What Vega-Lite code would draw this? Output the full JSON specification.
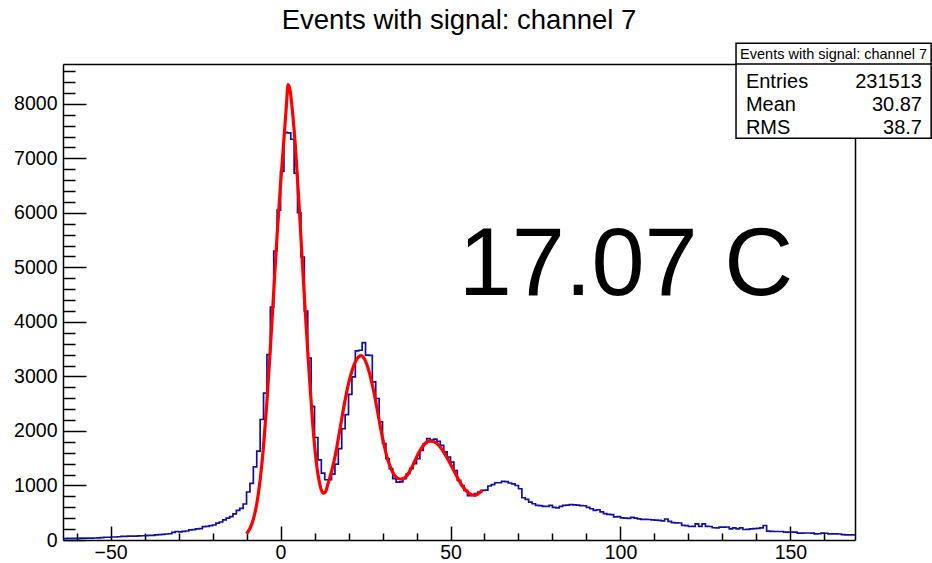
{
  "$schema": "https://vega.github.io/schema/vega-lite/v6.json",
  "width": 792,
  "height": 476,
  "autosize": {"type": "none"},
  "padding": {"left": 63, "top": 64, "right": 77, "bottom": 23},
  "background": "white",
  "title": {
    "text": "Events with signal: channel 7",
    "frame": "group",
    "anchor": "middle",
    "baseline": "alphabetic",
    "offset": 9,
    "dy": 23,
    "font": "Liberation Sans",
    "fontSize": 27.5,
    "fontWeight": "normal",
    "color": "black"
  },
  "config": {
    "view": {"stroke": null},
    "axis": {"grid": false, "title": null, "tickColor": "black", "tickWidth": 1.5, "domainColor": "black", "domainWidth": 1.5, "labelFont": "Liberation Sans", "labelFontSize": 19.5, "labelColor": "black", "format": "d"},
    "text": {"font": "Liberation Sans", "color": "black"}
  },
  "resolve": {"axis": {"x": "independent", "y": "independent"}},
  "datasets": {
    "hist": [
      {"x": -64, "n": 25}, {"x": -63, "n": 28}, {"x": -62, "n": 28}, {"x": -61, "n": 30}, {"x": -60, "n": 30},
      {"x": -59, "n": 33}, {"x": -58, "n": 33}, {"x": -57, "n": 35}, {"x": -56, "n": 35}, {"x": -55, "n": 37},
      {"x": -54, "n": 40}, {"x": -53, "n": 45}, {"x": -52, "n": 50}, {"x": -51, "n": 50}, {"x": -50, "n": 55},
      {"x": -49, "n": 55}, {"x": -48, "n": 60}, {"x": -47, "n": 65}, {"x": -46, "n": 65}, {"x": -45, "n": 70},
      {"x": -44, "n": 70}, {"x": -43, "n": 72}, {"x": -42, "n": 75}, {"x": -41, "n": 78}, {"x": -40, "n": 82},
      {"x": -39, "n": 85}, {"x": -38, "n": 85}, {"x": -37, "n": 95}, {"x": -36, "n": 100}, {"x": -35, "n": 105},
      {"x": -34, "n": 110}, {"x": -33, "n": 115}, {"x": -32, "n": 140}, {"x": -31, "n": 156}, {"x": -30, "n": 150},
      {"x": -29, "n": 160}, {"x": -28, "n": 165}, {"x": -27, "n": 185}, {"x": -26, "n": 190}, {"x": -25, "n": 205},
      {"x": -24, "n": 210}, {"x": -23, "n": 245}, {"x": -22, "n": 250}, {"x": -21, "n": 265}, {"x": -20, "n": 275},
      {"x": -19, "n": 310}, {"x": -18, "n": 330}, {"x": -17, "n": 370}, {"x": -16, "n": 400}, {"x": -15, "n": 430},
      {"x": -14, "n": 480}, {"x": -13, "n": 545}, {"x": -12, "n": 580}, {"x": -11, "n": 660}, {"x": -10, "n": 880},
      {"x": -9, "n": 1040}, {"x": -8, "n": 1340}, {"x": -7, "n": 1630}, {"x": -6, "n": 2210}, {"x": -5, "n": 2695},
      {"x": -4, "n": 3400}, {"x": -3, "n": 4270}, {"x": -2, "n": 5300}, {"x": -1, "n": 6050}, {"x": 0, "n": 6760},
      {"x": 1, "n": 7475}, {"x": 2, "n": 7465}, {"x": 3, "n": 7350}, {"x": 4, "n": 6730}, {"x": 5, "n": 6005},
      {"x": 6, "n": 5190}, {"x": 7, "n": 4200}, {"x": 8, "n": 3335}, {"x": 9, "n": 2450}, {"x": 10, "n": 1880},
      {"x": 11, "n": 1470}, {"x": 12, "n": 1225}, {"x": 13, "n": 1105}, {"x": 14, "n": 1105}, {"x": 15, "n": 1210},
      {"x": 16, "n": 1390}, {"x": 17, "n": 1675}, {"x": 18, "n": 2040}, {"x": 19, "n": 2300}, {"x": 20, "n": 2670},
      {"x": 21, "n": 2990}, {"x": 22, "n": 3470}, {"x": 23, "n": 3480}, {"x": 24, "n": 3620}, {"x": 25, "n": 3390},
      {"x": 26, "n": 3385}, {"x": 27, "n": 2900}, {"x": 28, "n": 2595}, {"x": 29, "n": 2165}, {"x": 30, "n": 1770},
      {"x": 31, "n": 1490}, {"x": 32, "n": 1310}, {"x": 33, "n": 1125}, {"x": 34, "n": 1060}, {"x": 35, "n": 1065},
      {"x": 36, "n": 1125}, {"x": 37, "n": 1215}, {"x": 38, "n": 1310}, {"x": 39, "n": 1400}, {"x": 40, "n": 1490},
      {"x": 41, "n": 1645}, {"x": 42, "n": 1765}, {"x": 43, "n": 1860}, {"x": 44, "n": 1830}, {"x": 45, "n": 1850},
      {"x": 46, "n": 1810}, {"x": 47, "n": 1735}, {"x": 48, "n": 1615}, {"x": 49, "n": 1520}, {"x": 50, "n": 1430},
      {"x": 51, "n": 1275}, {"x": 52, "n": 1095}, {"x": 53, "n": 1000}, {"x": 54, "n": 910}, {"x": 55, "n": 815},
      {"x": 56, "n": 820}, {"x": 57, "n": 850}, {"x": 58, "n": 880}, {"x": 59, "n": 910}, {"x": 60, "n": 915},
      {"x": 61, "n": 990}, {"x": 62, "n": 1015}, {"x": 63, "n": 1050}, {"x": 64, "n": 1050}, {"x": 65, "n": 1075},
      {"x": 66, "n": 1070}, {"x": 67, "n": 1045}, {"x": 68, "n": 1030}, {"x": 69, "n": 1000}, {"x": 70, "n": 940},
      {"x": 71, "n": 775}, {"x": 72, "n": 745}, {"x": 73, "n": 695}, {"x": 74, "n": 665}, {"x": 75, "n": 635},
      {"x": 76, "n": 630}, {"x": 77, "n": 615}, {"x": 78, "n": 615}, {"x": 79, "n": 635}, {"x": 80, "n": 600},
      {"x": 81, "n": 590}, {"x": 82, "n": 615}, {"x": 83, "n": 635}, {"x": 84, "n": 640}, {"x": 85, "n": 648},
      {"x": 86, "n": 645}, {"x": 87, "n": 640}, {"x": 88, "n": 632}, {"x": 89, "n": 628}, {"x": 90, "n": 600},
      {"x": 91, "n": 573}, {"x": 92, "n": 545}, {"x": 93, "n": 555}, {"x": 94, "n": 515}, {"x": 95, "n": 482},
      {"x": 96, "n": 470}, {"x": 97, "n": 465}, {"x": 98, "n": 425}, {"x": 99, "n": 430}, {"x": 100, "n": 405},
      {"x": 101, "n": 402}, {"x": 102, "n": 395}, {"x": 103, "n": 415}, {"x": 104, "n": 400}, {"x": 105, "n": 389},
      {"x": 106, "n": 378}, {"x": 107, "n": 377}, {"x": 108, "n": 376}, {"x": 109, "n": 370}, {"x": 110, "n": 365},
      {"x": 111, "n": 360}, {"x": 112, "n": 350}, {"x": 113, "n": 385}, {"x": 114, "n": 340}, {"x": 115, "n": 318},
      {"x": 116, "n": 315}, {"x": 117, "n": 312}, {"x": 118, "n": 268}, {"x": 119, "n": 265}, {"x": 120, "n": 248},
      {"x": 121, "n": 250}, {"x": 122, "n": 297}, {"x": 123, "n": 250}, {"x": 124, "n": 295}, {"x": 125, "n": 250},
      {"x": 126, "n": 248}, {"x": 127, "n": 225}, {"x": 128, "n": 222}, {"x": 129, "n": 236}, {"x": 130, "n": 236},
      {"x": 131, "n": 238}, {"x": 132, "n": 205}, {"x": 133, "n": 224}, {"x": 134, "n": 205}, {"x": 135, "n": 222},
      {"x": 136, "n": 193}, {"x": 137, "n": 195}, {"x": 138, "n": 205}, {"x": 139, "n": 210}, {"x": 140, "n": 215},
      {"x": 141, "n": 222}, {"x": 142, "n": 266}, {"x": 143, "n": 162}, {"x": 144, "n": 160}, {"x": 145, "n": 156},
      {"x": 146, "n": 156}, {"x": 147, "n": 156}, {"x": 148, "n": 145}, {"x": 149, "n": 143}, {"x": 150, "n": 143},
      {"x": 151, "n": 143}, {"x": 152, "n": 125}, {"x": 153, "n": 125}, {"x": 154, "n": 128}, {"x": 155, "n": 128},
      {"x": 156, "n": 127}, {"x": 157, "n": 113}, {"x": 158, "n": 115}, {"x": 159, "n": 125}, {"x": 160, "n": 124},
      {"x": 161, "n": 113}, {"x": 162, "n": 112}, {"x": 163, "n": 113}, {"x": 164, "n": 110}, {"x": 165, "n": 100},
      {"x": 166, "n": 95}, {"x": 167, "n": 95}, {"x": 168, "n": 93}, {"x": 169, "n": 93}
    ],
    "fit": [
      {"x": -10, "v": 115}, {"x": -9, "v": 210}, {"x": -8, "v": 380}, {"x": -7, "v": 660}, {"x": -6, "v": 1100},
      {"x": -5, "v": 1720}, {"x": -4, "v": 2540}, {"x": -3, "v": 3520}, {"x": -2, "v": 4560}, {"x": -1, "v": 5600},
      {"x": 0, "v": 6520}, {"x": 1, "v": 7350}, {"x": 1.7, "v": 7950}, {"x": 2.2, "v": 8350}, {"x": 2.8, "v": 8250},
      {"x": 3.6, "v": 7800}, {"x": 4.5, "v": 7100}, {"x": 5.5, "v": 6100}, {"x": 6.5, "v": 5000}, {"x": 7.5, "v": 3960},
      {"x": 8.5, "v": 2980}, {"x": 9.5, "v": 2100}, {"x": 10.5, "v": 1440}, {"x": 11.5, "v": 1040}, {"x": 12.5, "v": 860},
      {"x": 13.2, "v": 880}, {"x": 14, "v": 1040}, {"x": 15, "v": 1260}, {"x": 16, "v": 1520}, {"x": 17, "v": 1860},
      {"x": 18, "v": 2220}, {"x": 19, "v": 2570}, {"x": 20, "v": 2870}, {"x": 21, "v": 3100}, {"x": 22, "v": 3270},
      {"x": 23, "v": 3360}, {"x": 23.7, "v": 3380}, {"x": 24.5, "v": 3340}, {"x": 25.5, "v": 3200}, {"x": 26.5, "v": 2980},
      {"x": 27.5, "v": 2700}, {"x": 28.5, "v": 2370}, {"x": 29.5, "v": 2030}, {"x": 30.5, "v": 1730}, {"x": 31.5, "v": 1480},
      {"x": 32.5, "v": 1310}, {"x": 33.5, "v": 1190}, {"x": 34.5, "v": 1130}, {"x": 35.5, "v": 1115}, {"x": 36.5, "v": 1140},
      {"x": 37.5, "v": 1210}, {"x": 38.5, "v": 1320}, {"x": 39.5, "v": 1450}, {"x": 40.5, "v": 1580}, {"x": 41.5, "v": 1690},
      {"x": 42.5, "v": 1770}, {"x": 43.5, "v": 1810}, {"x": 44.5, "v": 1815}, {"x": 45.5, "v": 1790}, {"x": 46.5, "v": 1740},
      {"x": 47.5, "v": 1660}, {"x": 48.5, "v": 1560}, {"x": 49.5, "v": 1450}, {"x": 50.5, "v": 1330}, {"x": 51.5, "v": 1210},
      {"x": 52.5, "v": 1090}, {"x": 53.5, "v": 990}, {"x": 54.5, "v": 910}, {"x": 55.5, "v": 855}, {"x": 56.5, "v": 825},
      {"x": 57.3, "v": 820}, {"x": 58, "v": 840}, {"x": 58.8, "v": 880}, {"x": 59.4, "v": 910}
    ]
  },
  "layer": [
    {
      "data": {"name": "hist"},
      "mark": {"type": "line", "interpolate": "step-after", "color": "#10109c", "strokeWidth": 1.7},
      "encoding": {
        "x": {"field": "x", "type": "quantitative", "scale": {"domain": [-64, 169], "nice": false, "zero": false},
          "axis": {"orient": "bottom", "values": [-50, 0, 50, 100, 150], "tickSize": -14, "labelPadding": 17, "domain": true, "labelFlush": false, "labelFont": "Liberation Sans", "labelFontSize": 19.5}},
        "y": {"field": "n", "type": "quantitative", "scale": {"domain": [0, 8730], "nice": false, "zero": true},
          "axis": {"orient": "left", "values": [0, 1000, 2000, 3000, 4000, 5000, 6000, 7000, 8000], "tickSize": -23, "labelPadding": 29, "domain": true, "labelFlush": false, "labelFont": "Liberation Sans", "labelFontSize": 19.5}}
      }
    },
    {
      "data": {"name": "fit"},
      "mark": {"type": "line", "interpolate": "monotone", "color": "#ff0000", "strokeWidth": 3.2},
      "encoding": {
        "x": {"field": "x", "type": "quantitative",
          "axis": {"orient": "bottom", "values": [-60, -40, -30, -20, -10, 10, 20, 30, 40, 60, 70, 80, 90, 110, 120, 130, 140, 160], "tickSize": -7, "labels": false, "domain": false}},
        "y": {"field": "v", "type": "quantitative",
          "axis": {"orient": "left", "values": [200, 400, 600, 800, 1200, 1400, 1600, 1800, 2200, 2400, 2600, 2800, 3200, 3400, 3600, 3800, 4200, 4400, 4600, 4800, 5200, 5400, 5600, 5800, 6200, 6400, 6600, 6800, 7200, 7400, 7600, 7800, 8200, 8400, 8600], "tickSize": -12, "labels": false, "domain": false}}
      }
    },
    {
      "data": {"values": [{}]},
      "mark": {"type": "text", "text": "17.07 C", "fontSize": 95.5, "align": "left", "baseline": "alphabetic"},
      "encoding": {
        "x": {"datum": 52.4, "type": "quantitative", "axis": {"orient": "top", "domain": true, "ticks": false, "labels": false}},
        "y": {"datum": 4500, "type": "quantitative", "axis": {"orient": "right", "domain": true, "ticks": false, "labels": false}}
      }
    },
    {
      "data": {"values": [{}]},
      "mark": {"type": "rect", "fill": "white", "stroke": "black", "strokeWidth": 1.5},
      "encoding": {
        "x": {"datum": 134, "type": "quantitative", "axis": null},
        "x2": {"datum": 191.4},
        "y": {"datum": 9110, "type": "quantitative", "axis": null},
        "y2": {"datum": 7366}
      }
    },
    {
      "data": {"values": [{}]},
      "mark": {"type": "rule", "color": "black", "strokeWidth": 1.5},
      "encoding": {
        "x": {"datum": 134, "type": "quantitative", "axis": null},
        "x2": {"datum": 191.4},
        "y": {"datum": 8730, "type": "quantitative", "axis": null}
      }
    },
    {
      "data": {"values": [{}]},
      "mark": {"type": "text", "text": "Events with signal: channel 7", "fontSize": 14.5, "align": "center", "baseline": "middle"},
      "encoding": {
        "x": {"datum": 162.7, "type": "quantitative", "axis": null},
        "y": {"datum": 8895, "type": "quantitative", "axis": null}
      }
    },
    {
      "data": {"values": [{}]},
      "mark": {"type": "text", "text": ["Entries", "Mean", "RMS"], "fontSize": 20, "lineHeight": 23, "align": "left", "baseline": "middle"},
      "encoding": {
        "x": {"datum": 136.9, "type": "quantitative", "axis": null},
        "y": {"datum": 8400, "type": "quantitative", "axis": null}
      }
    },
    {
      "data": {"values": [{}]},
      "mark": {"type": "text", "text": ["231513", "30.87", "38.7"], "fontSize": 20, "lineHeight": 23, "align": "right", "baseline": "middle"},
      "encoding": {
        "x": {"datum": 188.7, "type": "quantitative", "axis": null},
        "y": {"datum": 8400, "type": "quantitative", "axis": null}
      }
    }
  ]
}
